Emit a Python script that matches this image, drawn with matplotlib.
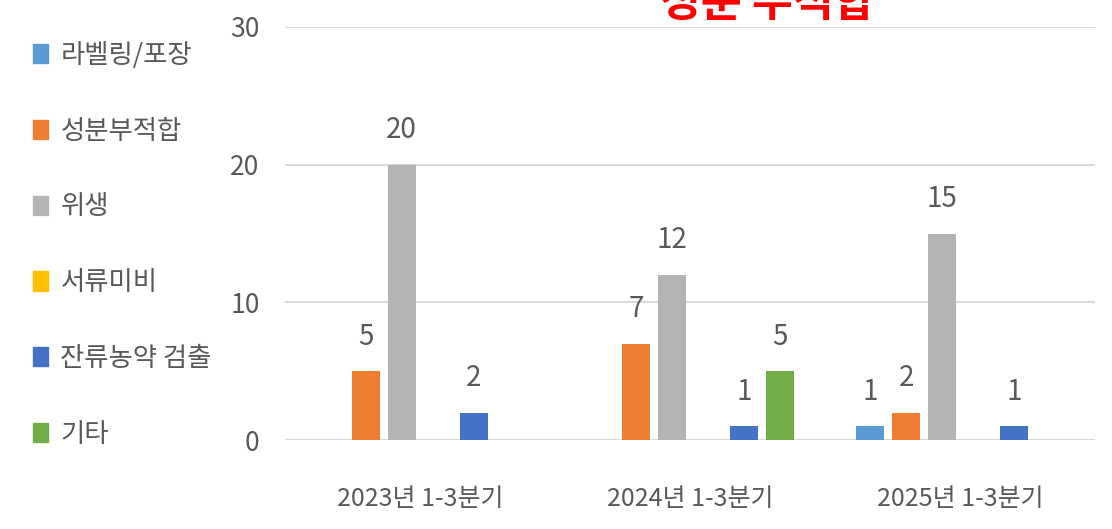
import numpy as np
import matplotlib.pyplot as plt
from matplotlib.patches import Patch

plt.rcParams['font.family'] = ['Noto Sans CJK KR', 'DejaVu Sans']

periods = ["2023년 1-3분기", "2024년 1-3분기", "2025년 1-3분기"]
series = ["라벨링/포장", "성분부적합", "위생", "서류미비", "잔류농약 검출", "기타"]
colors = ["#5B9BD5", "#ED7D31", "#B4B4B4", "#FFC000", "#4472C4", "#70AD47"]

labeling = [0, 0, 1]
ingredient = [5, 7, 2]
hygiene = [20, 12, 15]
documents = [0, 0, 0]
pesticide = [2, 1, 1]
other = [0, 5, 0]
values = [labeling, ingredient, hygiene, documents, pesticide, other]

text_col = "#595959"

fig = plt.figure(figsize=(11.12, 5.29), dpi=100)
ax = fig.add_axes([0.256, 0.168, 0.729, 0.781])

x = np.arange(len(periods))
slot = 0.1333
width = 0.104
for i, (name, vals) in enumerate(zip(series, values)):
    pos = x + (i - 2.5) * slot
    bars = ax.bar(pos, vals, width, color=colors[i], label=name, zorder=3)
    for b, v in zip(bars, vals):
        if v > 0:
            ax.annotate(str(v), (b.get_x() + b.get_width() / 2, v),
                        xytext=(0, 14), textcoords='offset points',
                        ha='center', va='bottom', fontsize=20, color=text_col)

ax.set_xlim(-0.5, 2.5)
ax.set_ylim(0, 30)
ax.set_yticks([0, 10, 20, 30])
ax.set_xticks(x)
ax.set_xticklabels(periods)
ax.tick_params(axis='y', length=0, pad=18, labelsize=19, labelcolor=text_col)
ax.tick_params(axis='x', length=0, pad=33, labelsize=18, labelcolor=text_col)
ax.grid(axis='y', color='#D9D9D9', linewidth=1.5, zorder=0)
for s in ax.spines.values():
    s.set_visible(False)

handles = [Patch(color=c) for c in colors]
fig.legend(handles, series, loc='upper left', bbox_to_anchor=(0.008, 0.966),
           frameon=False, fontsize=19, labelcolor=text_col,
           handlelength=0.6, handleheight=0.75, handletextpad=0.45,
           labelspacing=1.85)

# title is cut off by the top edge of the image, as in the source
fig.text(0.69, 1 - 26 / 529, "성분 부적합", color='#FF0000', fontsize=32,
         fontweight='bold', ha='center', va='bottom')

plt.savefig('out.png', dpi=100)
